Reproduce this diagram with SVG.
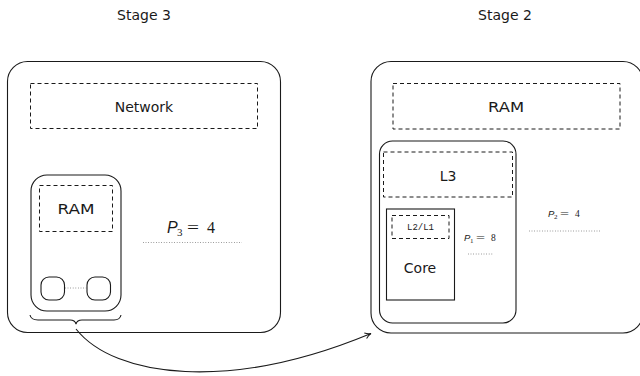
<svg xmlns="http://www.w3.org/2000/svg" width="640" height="376" viewBox="0 0 640 376">
<defs>
<style>
.solid{fill:none;stroke:#1a1a1a;stroke-width:1.1}
.dash{fill:none;stroke:#1a1a1a;stroke-width:1;stroke-dasharray:4 3}
.dot{fill:none;stroke:#666;stroke-width:0.8;stroke-dasharray:0.8 1.8}
.lbl{font-family:"DejaVu Sans",sans-serif;font-size:14px;fill:#1a1a1a;text-anchor:middle}
.title{font-family:"DejaVu Sans",sans-serif;font-size:14px;fill:#1a1a1a;text-anchor:middle}
.tt{font-family:"Liberation Mono",monospace;font-size:9px;fill:#1a1a1a;text-anchor:middle}
.math{font-family:"Liberation Serif",serif;fill:#1a1a1a}
.it{font-style:italic;font-family:"Liberation Sans",sans-serif}
</style>
<marker id="arr" markerWidth="10" markerHeight="10" refX="7" refY="4" orient="auto" markerUnits="userSpaceOnUse">
<path d="M1,1 Q4,3.5 7,4 Q4,4.5 1,7" fill="none" stroke="#1a1a1a" stroke-width="1"/>
</marker>
</defs>
<rect width="640" height="376" fill="#fff"/>

<g id="stage3">
<text class="title" x="144" y="20">Stage 3</text>
<rect class="solid" x="7.5" y="61.5" width="273" height="271" rx="20"/>
</g>
<g id="network">
<rect class="dash" x="30.5" y="83.5" width="227" height="45"/>
<text class="lbl" x="144" y="112">Network</text>
</g>
<g id="node3">
<rect class="solid" x="31" y="175" width="90" height="136" rx="16"/>
</g>
<g id="ram3">
<rect class="dash" x="39.5" y="185.5" width="73" height="46"/>
<text class="lbl" x="76" y="214" textLength="37" lengthAdjust="spacingAndGlyphs">RAM</text>
</g>
<g id="socket3a">
<rect class="solid" x="41" y="277" width="23.5" height="23" rx="8"/>
</g>
<g id="socket3b">
<rect class="solid" x="87" y="277" width="23.5" height="23" rx="8"/>
</g>
<g id="p3">
<text class="math" y="233" font-size="16"><tspan class="it" x="167">P</tspan><tspan font-size="11" x="177" dy="3">3</tspan><tspan x="187" dy="-3" textLength="12" lengthAdjust="spacingAndGlyphs">=</tspan><tspan x="207">4</tspan></text>
</g>
<g id="brace">
<path class="solid" d="M30,315 Q31,320 38,320 L70,320 Q75,320 76,324 Q77,320 82,320 L114,320 Q120,320 121,315"/>
</g>

<g id="stage2">
<text class="title" x="505" y="20">Stage 2</text>
<rect class="solid" x="371" y="61.5" width="272" height="271.5" rx="20"/>
</g>
<g id="ram2">
<rect class="dash" x="393" y="83.5" width="227" height="45.5"/>
<text class="lbl" x="506" y="112" textLength="36" lengthAdjust="spacingAndGlyphs">RAM</text>
</g>
<g id="node2">
<rect class="solid" x="379.5" y="141" width="136.5" height="182" rx="13"/>
</g>
<g id="l3">
<rect class="dash" x="383.5" y="152" width="129" height="45"/>
<text class="lbl" x="448" y="181">L3</text>
</g>
<g id="core">
<rect class="solid" x="386.5" y="209" width="68" height="91"/>
<text class="lbl" x="420" y="273" font-size="13">Core</text>
</g>
<g id="l2l1">
<rect class="dash" x="392" y="215.5" width="57" height="23"/>
<text class="tt" x="420.5" y="230">L2/L1</text>
</g>
<g id="p1">
<text class="math" y="241" font-size="9.5"><tspan class="it" x="464">P</tspan><tspan font-size="7" x="470" dy="2">1</tspan><tspan x="476" dy="-2" textLength="9" lengthAdjust="spacingAndGlyphs">=</tspan><tspan x="491">8</tspan></text>
</g>
<g id="p2">
<text class="math" y="217" font-size="9.5"><tspan class="it" x="548">P</tspan><tspan font-size="7" x="554" dy="2">2</tspan><tspan x="560" dy="-2" textLength="9" lengthAdjust="spacingAndGlyphs">=</tspan><tspan x="575">4</tspan></text>
</g>

<g id="connectors">
<line class="dot" x1="65" y1="288" x2="87" y2="288"/>
<line class="dot" x1="143" y1="242.5" x2="242" y2="242.5"/>
<line class="dot" x1="468" y1="254" x2="493" y2="254"/>
<line class="dot" x1="529" y1="231" x2="600" y2="231"/>
<path class="solid" d="M76,329 C115,378 230,392 371,333.5" marker-end="url(#arr)"/>
</g>
</svg>
